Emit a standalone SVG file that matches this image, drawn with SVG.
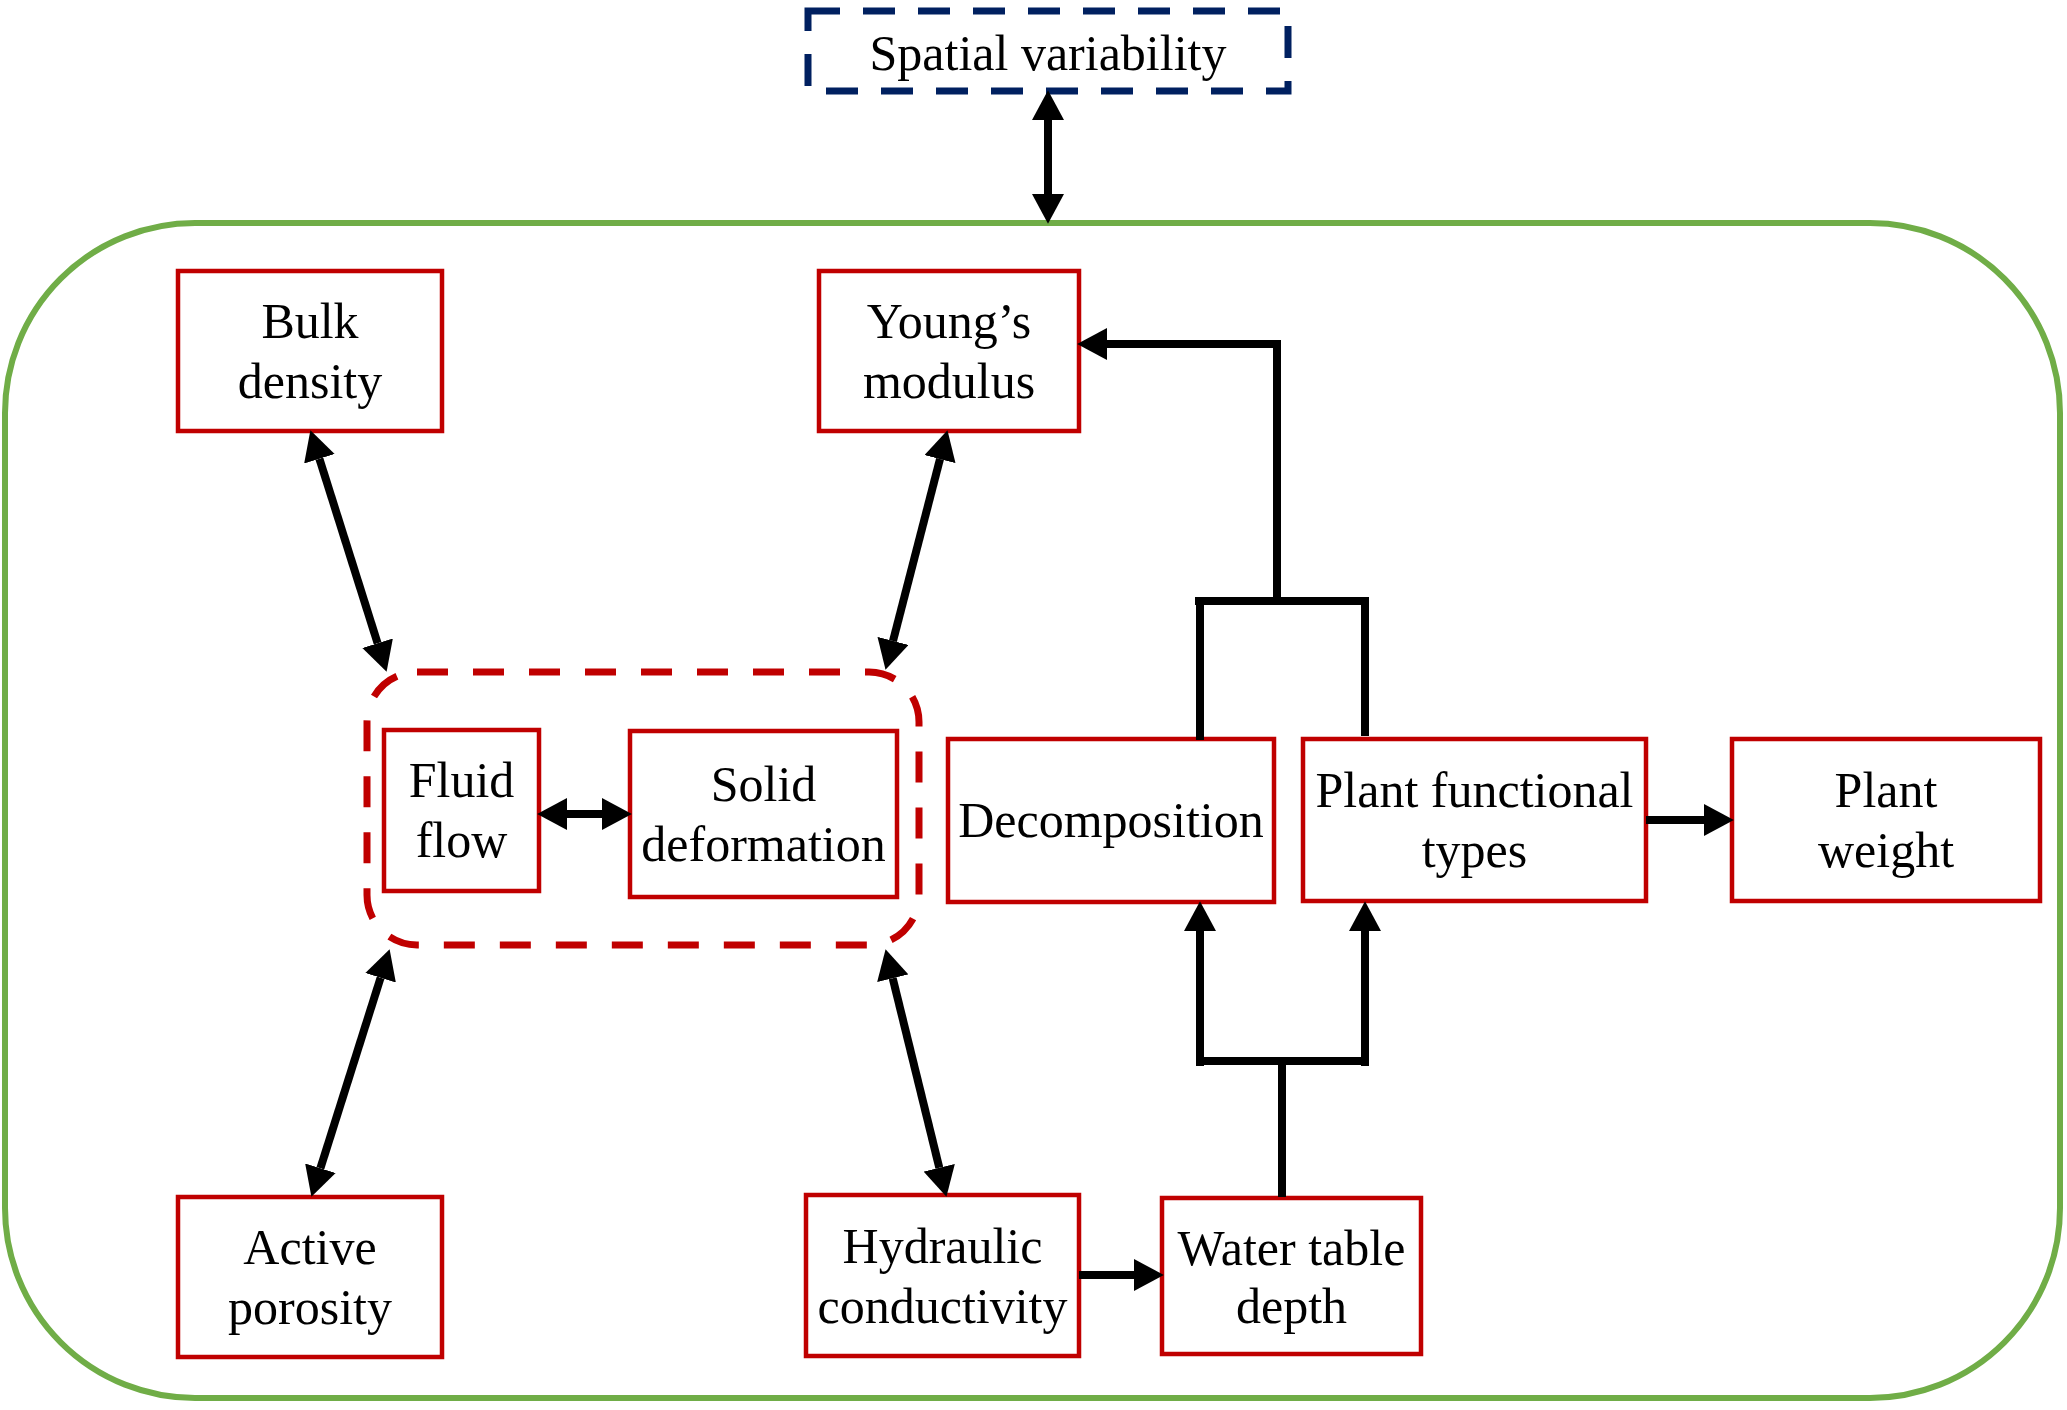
<svg xmlns="http://www.w3.org/2000/svg" width="2067" height="1410" viewBox="0 0 2067 1410">
<style>
.box{fill:#fff;stroke:#C00000;stroke-width:4.5}
.t{font-family:"Liberation Serif","Times New Roman",serif;font-size:50px;fill:#000;text-anchor:middle}
.ln{fill:none;stroke:#000;stroke-width:8;stroke-linecap:butt}
</style>
<defs>
<marker id="ah" markerUnits="userSpaceOnUse" markerWidth="30" markerHeight="32" refX="0" refY="15" orient="auto-start-reverse" viewBox="0 0 28 30">
<path d="M0,0 L28,15 L0,30 Z" fill="#000"/>
</marker>
</defs>
<rect id="outer" x="5" y="223" width="2055" height="1175" rx="190" ry="190" fill="#fff" stroke="#70AD47" stroke-width="6"/>
<g id="spatial">
<rect x="808" y="11" width="480" height="80" fill="#fff" stroke="#002060" stroke-width="7" stroke-dasharray="32 23"/>
<text class="t" x="1048" y="70">Spatial variability</text>
</g>
<g id="coupled">
<rect x="367" y="672" width="552" height="273" rx="50" ry="50" fill="none" stroke="#C00000" stroke-width="7" stroke-dasharray="31 25"/>
</g>
<g id="bulk"><rect class="box" x="178" y="271" width="264" height="160"/><text class="t" x="310" y="338">Bulk</text><text class="t" x="310" y="398">density</text></g>
<g id="young"><rect class="box" x="819" y="271" width="260" height="160"/><text class="t" x="949" y="338">Young’s</text><text class="t" x="949" y="398">modulus</text></g>
<g id="fluid"><rect class="box" x="384" y="730" width="155" height="161"/><text class="t" x="461.5" y="797">Fluid</text><text class="t" x="461.5" y="857">flow</text></g>
<g id="solid"><rect class="box" x="630" y="731" width="267" height="166"/><text class="t" x="763.5" y="801">Solid</text><text class="t" x="763.5" y="861">deformation</text></g>
<g id="decomp"><rect class="box" x="948" y="739" width="326" height="163"/><text class="t" x="1111" y="837">Decomposition</text></g>
<g id="pft"><rect class="box" x="1303" y="739" width="343" height="162"/><text class="t" x="1474.5" y="807">Plant functional</text><text class="t" x="1474.5" y="867">types</text></g>
<g id="weight"><rect class="box" x="1732" y="739" width="308" height="162"/><text class="t" x="1886" y="807">Plant</text><text class="t" x="1886" y="867">weight</text></g>
<g id="active"><rect class="box" x="178" y="1197" width="264" height="160"/><text class="t" x="310" y="1264">Active</text><text class="t" x="310" y="1324">porosity</text></g>
<g id="hydraulic"><rect class="box" x="806" y="1195" width="273" height="161"/><text class="t" x="942.5" y="1263">Hydraulic</text><text class="t" x="942.5" y="1323">conductivity</text></g>
<g id="water"><rect class="box" x="1162" y="1198" width="259" height="156"/><text class="t" x="1291.5" y="1265">Water table</text><text class="t" x="1291.5" y="1323">depth</text></g>
<g id="connectors">
<line class="ln" x1="1048" y1="120" x2="1048" y2="194" marker-start="url(#ah)" marker-end="url(#ah)"/>
<line class="ln" x1="319.4" y1="458.7" x2="377.6" y2="643.3" marker-start="url(#ah)" marker-end="url(#ah)"/>
<line class="ln" x1="940" y1="459.1" x2="893" y2="640.9" marker-start="url(#ah)" marker-end="url(#ah)"/>
<line class="ln" x1="380.6" y1="977.7" x2="320.4" y2="1168.3" marker-start="url(#ah)" marker-end="url(#ah)"/>
<line class="ln" x1="892.7" y1="978.2" x2="939.3" y2="1167.8" marker-start="url(#ah)" marker-end="url(#ah)"/>
<line class="ln" x1="567" y1="814" x2="602" y2="814" marker-start="url(#ah)" marker-end="url(#ah)"/>
<line class="ln" x1="1079" y1="1275" x2="1134" y2="1275" marker-end="url(#ah)"/>
<line class="ln" x1="1646" y1="820" x2="1704" y2="820" marker-end="url(#ah)"/>
<path class="ln" d="M1282,1197 V1061 M1196,1061 H1369"/>
<line class="ln" x1="1200" y1="1066" x2="1200" y2="931" marker-end="url(#ah)"/>
<line class="ln" x1="1365" y1="1066" x2="1365" y2="931" marker-end="url(#ah)"/>
<path class="ln" d="M1200,740 V601 M1365,736 V601 M1195,601 H1369"/>
<path class="ln" d="M1277,601 V344 H1107" marker-end="url(#ah)"/>
</g>
</svg>
